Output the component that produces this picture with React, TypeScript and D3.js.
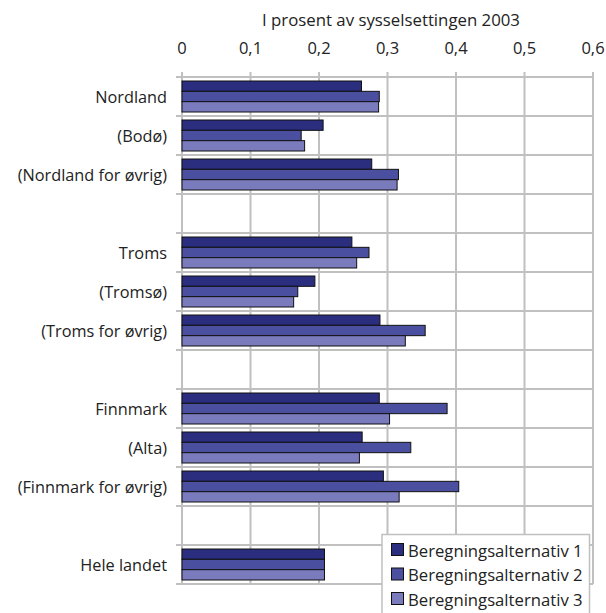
import React from "react";
import * as d3 from "d3";

const categories = [
  "Nordland",
  "(Bodø)",
  "(Nordland for øvrig)",
  "",
  "Troms",
  "(Tromsø)",
  "(Troms for øvrig)",
  " ",
  "Finnmark",
  "(Alta)",
  "(Finnmark for øvrig)",
  "  ",
  "Hele landet",
];
const seriesNames = ["Beregningsalternativ 1", "Beregningsalternativ 2", "Beregningsalternativ 3"];
const alt1 = [0.262, 0.206, 0.277, null, 0.248, 0.194, 0.289, null, 0.288, 0.263, 0.294, null, 0.208];
const alt2 = [0.288, 0.174, 0.316, null, 0.273, 0.169, 0.355, null, 0.387, 0.334, 0.404, null, 0.208];
const alt3 = [0.287, 0.179, 0.314, null, 0.255, 0.163, 0.326, null, 0.303, 0.259, 0.317, null, 0.208];
const xTicks = [0, 0.1, 0.2, 0.3, 0.4, 0.5, 0.6];
const title = "I prosent av sysselsettingen 2003";

const colors = ["#2b2e7e", "#4b4f9f", "#7a7bbd"];
const FONT = "'Open Sans', 'DejaVu Sans', sans-serif";

export default function App() {
  const W = 606, H = 613;
  const left = 182, right = 593, top = 77, bottom = 584;
  const x = d3.scaleLinear().domain([0, 0.6]).range([left, right]);
  const y = d3.scaleBand<number>().domain(d3.range(categories.length)).range([top, bottom]).paddingInner(0).paddingOuter(0);
  const inner = d3.scaleBand<number>().domain([0, 1, 2]).range([4, y.bandwidth() - 4]).padding(0);
  const series = [alt1, alt2, alt3];
  const fmt = (v: number) => (v === 0 ? "0" : d3.format(".1f")(v).replace(".", ","));
  const grid = "#c0c0c0";

  return (
    <svg width={W} height={H} style={{ position: "absolute", left: 0, top: 0, background: "#fff" }} fontFamily={FONT}>
      <rect x={0} y={0} width={W} height={H} fill="#fff" />
      <text x={391} y={19} textAnchor="middle" dominantBaseline="central" fontSize={16.8} fill="#222">{title}</text>
      {xTicks.map((t) => (
        <g key={t}>
          <text x={x(t)} y={47} textAnchor="middle" dominantBaseline="central" fontSize={16.5} fill="#222">{fmt(t)}</text>
          <line x1={x(t)} x2={x(t)} y1={top - 5} y2={bottom} stroke={grid} strokeWidth={2} />
        </g>
      ))}
      {d3.range(categories.length + 1).map((i) => {
        const yy = i < categories.length ? (y(i) as number) : bottom;
        return <line key={i} x1={left - 6} x2={right} y1={yy} y2={yy} stroke={grid} strokeWidth={2} />;
      })}
      {categories.map((c, i) => (
        <text key={i} x={167} y={(y(i) as number) + y.bandwidth() / 2} textAnchor="end" dominantBaseline="central" fontSize={16.3} fill="#222">{c.trim()}</text>
      ))}
      {series.map((s, si) =>
        s.map((v, i) =>
          v == null ? null : (
            <rect
              key={si + "-" + i}
              x={x(0)}
              y={(y(i) as number) + (inner(si) as number)}
              width={x(v) - x(0)}
              height={inner.bandwidth()}
              fill={colors[si]}
              stroke="#111"
              strokeWidth={1}
            />
          )
        )
      )}
      <g>
        <rect x={382} y={534.5} width={207.5} height={100} fill="#fff" stroke={grid} strokeWidth={1.5} />
        {seriesNames.map((n, i) => (
          <g key={n}>
            <rect x={391.5} y={543.5 + i * 24.5} width={12} height={12} fill={colors[i]} stroke="#111" strokeWidth={1} />
            <text x={408} y={550 + i * 24.5} dominantBaseline="central" fontSize={16.7} fill="#222">{n}</text>
          </g>
        ))}
      </g>
    </svg>
  );
}
